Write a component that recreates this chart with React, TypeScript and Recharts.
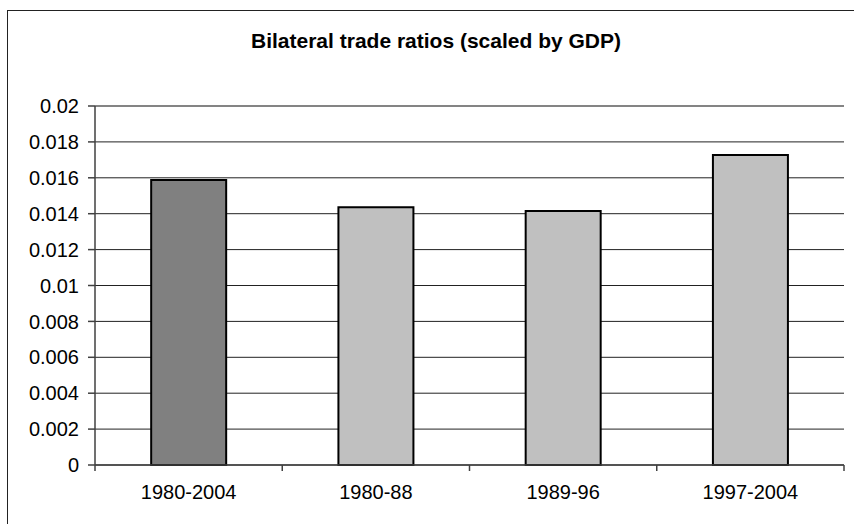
import React from "react"
import { BarChart, Bar, XAxis, YAxis, CartesianGrid, ReferenceLine, Cell } from "recharts"

const periods = ["1980-2004", "1980-88", "1989-96", "1997-2004"]
const tradeRatios = [0.01588, 0.01436, 0.01415, 0.01727]
const barColors = ["#808080", "#C0C0C0", "#C0C0C0", "#C0C0C0"]
const yTicks = [0, 0.002, 0.004, 0.006, 0.008, 0.01, 0.012, 0.014, 0.016, 0.018, 0.02]

const data = periods.map((p, i) => ({ period: p, ratio: tradeRatios[i] }))

const W = 854
const H = 524
const PLOT_LEFT = 95
const PLOT_RIGHT = 844
const PLOT_TOP = 106
const PLOT_BOTTOM = 465
const Y_AXIS_W = 80
const X_AXIS_H = 30
const band = (PLOT_RIGHT - PLOT_LEFT) / periods.length
const font = "'Liberation Sans', Arial, sans-serif"

// category ticks sit on the boundaries between bars, labels in the middle
function PeriodTick(props: any) {
  const { x, payload, index } = props
  const left = x - band / 2
  return (
    <g>
      <line x1={left} x2={left} y1={PLOT_BOTTOM} y2={PLOT_BOTTOM + 6} stroke="#404040" strokeWidth={1.5} />
      {index === periods.length - 1 && (
        <line x1={x + band / 2} x2={x + band / 2} y1={PLOT_BOTTOM} y2={PLOT_BOTTOM + 6} stroke="#404040" strokeWidth={1.5} />
      )}
      <text x={x} y={PLOT_BOTTOM + 34} textAnchor="middle" fontSize={20} fontFamily={font} fill="#000">
        {payload.value}
      </text>
    </g>
  )
}

export default function App() {
  return (
    <div style={{ position: "absolute", left: 0, top: 0, width: W, height: H, overflow: "hidden", background: "#fff" }}>
      <div style={{ position: "absolute", left: 7, top: 10, width: W + 20, height: H + 20, border: "1px solid #222" }} />
      <div
        style={{
          position: "absolute",
          left: 0,
          top: 29,
          width: 872,
          textAlign: "center",
          fontFamily: font,
          fontWeight: "bold",
          fontSize: 21,
          lineHeight: "24px",
          color: "#000",
        }}
      >
        Bilateral trade ratios (scaled by GDP)
      </div>
      <div style={{ position: "absolute", left: 0, top: 0 }}>
        <BarChart
          width={W}
          height={H}
          data={data}
          barCategoryGap="30%"
          margin={{ top: PLOT_TOP, right: W - PLOT_RIGHT, left: PLOT_LEFT - Y_AXIS_W, bottom: H - PLOT_BOTTOM - X_AXIS_H }}
        >
          <CartesianGrid vertical={false} stroke="#222" strokeWidth={1} />
          <XAxis
            dataKey="period"
            height={X_AXIS_H}
            tickLine={false}
            axisLine={{ stroke: "#404040", strokeWidth: 1.5 }}
            tick={<PeriodTick />}
            interval={0}
          />
          <YAxis
            width={Y_AXIS_W}
            domain={[0, 0.02]}
            ticks={yTicks}
            tickSize={7}
            tickMargin={9}
            tickLine={{ stroke: "#404040", strokeWidth: 1.5 }}
            axisLine={{ stroke: "#404040", strokeWidth: 1.5 }}
            tick={{ fontSize: 20, fontFamily: font, fill: "#000" }}
            tickFormatter={(v: number) => String(v)}
          />
          <YAxis
            yAxisId="frame"
            orientation="right"
            width={0}
            tick={false}
            tickLine={false}
            axisLine={{ stroke: "#808080", strokeWidth: 1.5 }}
          />
          <ReferenceLine y={0.02} stroke="#808080" strokeWidth={1.5} />
          <Bar dataKey="ratio" stroke="#000" strokeWidth={2} isAnimationActive={false}>
            {data.map((d, i) => (
              <Cell key={d.period} fill={barColors[i]} />
            ))}
          </Bar>
        </BarChart>
      </div>
    </div>
  )
}
